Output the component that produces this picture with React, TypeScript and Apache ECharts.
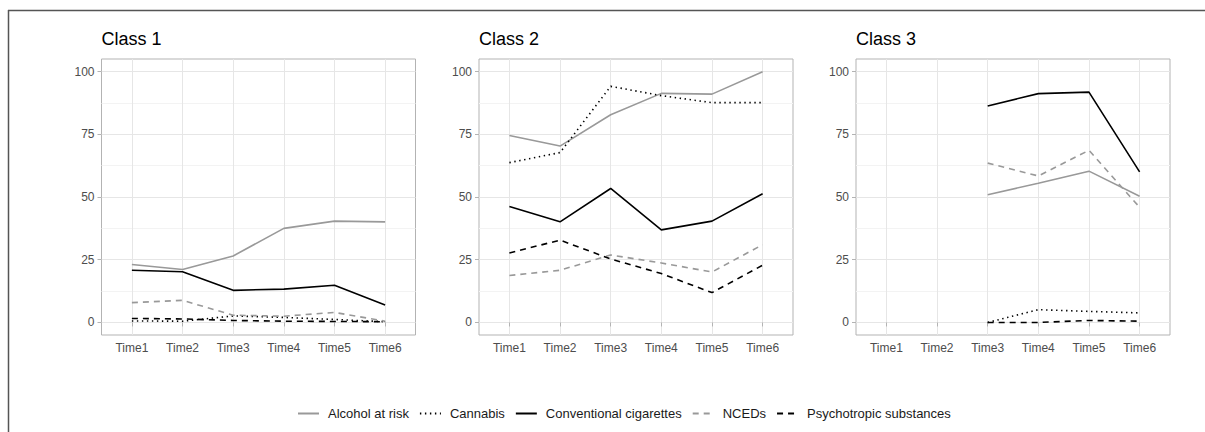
import React, { useEffect, useRef } from "react";
import * as echarts from "echarts";

const times = ["Time1", "Time2", "Time3", "Time4", "Time5", "Time6"];
const timePositions = [1, 2, 3, 4, 5, 6];
const classTitles = ["Class 1", "Class 2", "Class 3"];
const substances = [
  "Alcohol at risk",
  "Cannabis",
  "Conventional cigarettes",
  "NCEDs",
  "Psychotropic substances",
];
const yTicks = [0, 25, 50, 75, 100];
const yMinorTicks = [12.5, 37.5, 62.5, 87.5];

// Class 1
const class1Alcohol = [23.1, 21.1, 26.5, 37.5, 40.4, 40.1];
const class1Cannabis = [0.6, 0.5, 2.6, 2.0, 1.2, 0.3];
const class1Cigarettes = [20.8, 20.2, 12.8, 13.3, 14.8, 7.0];
const class1NCEDs = [7.9, 8.8, 2.9, 2.5, 4.0, 0.5];
const class1Psychotropic = [1.6, 1.4, 0.8, 0.5, 0.4, 0.3];

// Class 2
const class2Alcohol = [74.5, 70.3, 82.8, 91.3, 91.0, 99.9];
const class2Cannabis = [63.7, 67.7, 94.1, 90.4, 87.6, 87.6];
const class2Cigarettes = [46.2, 40.1, 53.4, 36.9, 40.4, 51.3];
const class2NCEDs = [18.7, 20.8, 26.9, 23.7, 20.1, 31.0];
const class2Psychotropic = [27.7, 32.8, 25.3, 19.5, 11.9, 22.8];

// Class 3
const class3Alcohol = [null, null, 50.9, 55.5, 60.3, 50.3];
const class3Cannabis = [null, null, 0.0, 5.1, 4.4, 3.8];
const class3Cigarettes = [null, null, 86.3, 91.2, 91.8, 60.0];
const class3NCEDs = [null, null, 63.5, 58.4, 68.6, 45.9];
const class3Psychotropic = [null, null, 0.0, 0.0, 0.8, 0.5];

const classData = [
  [class1Alcohol, class1Cannabis, class1Cigarettes, class1NCEDs, class1Psychotropic],
  [class2Alcohol, class2Cannabis, class2Cigarettes, class2NCEDs, class2Psychotropic],
  [class3Alcohol, class3Cannabis, class3Cigarettes, class3NCEDs, class3Psychotropic],
];

const lineStyles: any[] = [
  { color: "#999999", type: "solid" },
  { color: "#000000", type: [1.4, 3.6], cap: "butt" },
  { color: "#000000", type: "solid" },
  { color: "#999999", type: [6, 5] },
  { color: "#000000", type: [6, 5] },
];

const FONT = "Liberation Sans, Arial, Helvetica, sans-serif";
const gridLefts = [101.5, 479, 856];
const GRID_TOP = 59;
const GRID_W = 314;
const GRID_H = 276;

export default function App() {
  const ref = useRef<HTMLDivElement>(null);

  useEffect(() => {
    if (!ref.current) return;
    const chart = echarts.init(ref.current, null, { renderer: "svg" });

    const grids: any[] = [];
    const xAxes: any[] = [];
    const yAxes: any[] = [];
    const series: any[] = [];
    const titles: any[] = [];

    classTitles.forEach((t, gi) => {
      grids.push({
        left: gridLefts[gi],
        top: GRID_TOP,
        width: GRID_W,
        height: GRID_H,
        show: true,
        borderColor: "#b3b3b3",
        borderWidth: 1,
        backgroundColor: "transparent",
      });
      titles.push({
        text: t,
        left: gridLefts[gi],
        top: 30,
        padding: 0,
        textStyle: { fontFamily: FONT, fontSize: 18, fontWeight: "normal", color: "#000" },
      });
      xAxes.push({
        type: "value",
        gridIndex: gi,
        min: 0.4,
        max: 6.6,
        axisLine: { show: false },
        axisTick: {
          show: true,
          length: 4,
          customValues: timePositions,
          lineStyle: { color: "#b3b3b3" },
        },
        axisLabel: {
          customValues: timePositions,
          formatter: (v: number) => times[Math.round(v) - 1] ?? "",
          color: "#4d4d4d",
          fontFamily: FONT,
          fontSize: 12,
          margin: 7,
        },
        splitLine: { show: true, lineStyle: { color: "#e6e6e6", width: 1 } },
      });
      yAxes.push({
        type: "value",
        gridIndex: gi,
        min: -5,
        max: 105,
        axisLine: { show: false },
        axisTick: {
          show: true,
          length: 4,
          customValues: yTicks,
          lineStyle: { color: "#b3b3b3" },
        },
        axisLabel: {
          customValues: yTicks,
          color: "#4d4d4d",
          fontFamily: FONT,
          fontSize: 12,
          margin: 7,
        },
        splitLine: { show: true, lineStyle: { color: "#e6e6e6", width: 1 } },
      });
    });
    classTitles.forEach((_, gi) => {
      yAxes.push({
        type: "value",
        gridIndex: gi,
        min: -5,
        max: 105,
        position: "left",
        axisLine: { show: false },
        axisTick: { show: false, customValues: yMinorTicks },
        axisLabel: { show: false, customValues: yMinorTicks },
        splitLine: { show: true, lineStyle: { color: "#f3f3f3", width: 1 } },
        z: 0,
      });
    });

    classData.forEach((arrs, gi) => {
      arrs.forEach((vals, si) => {
        series.push({
          type: "line",
          name: substances[si],
          xAxisIndex: gi,
          yAxisIndex: gi,
          data: vals.map((v, i) => [timePositions[i], v]),
          symbol: "none",
          connectNulls: false,
          lineStyle: { width: 1.6, ...lineStyles[si] },
          itemStyle: { color: lineStyles[si].color },
          z: 3,
        });
      });
    });

    chart.setOption({
      animation: false,
      backgroundColor: "#ffffff",
      title: titles,
      grid: grids,
      xAxis: xAxes,
      yAxis: yAxes,
      series,
      legend: {
        data: substances,
        left: 292,
        top: 402,
        itemWidth: 21,
        itemHeight: 12,
        itemGap: 10,
        itemStyle: { opacity: 0 },
        textStyle: {
          fontFamily: FONT,
          fontSize: 13,
          color: "#1a1a1a",
          padding: [0, 0, 0, 4],
        },
      },
      graphic: [
        {
          type: "line",
          shape: { x1: 8, y1: 10.5, x2: 1205, y2: 10.5 },
          style: { stroke: "#555555", lineWidth: 1.5 },
          silent: true,
        },
        {
          type: "line",
          shape: { x1: 8.5, y1: 10, x2: 8.5, y2: 432 },
          style: { stroke: "#555555", lineWidth: 1.5 },
          silent: true,
        },
      ],
    });

    return () => chart.dispose();
  }, []);

  return (
    <div
      ref={ref}
      style={{ position: "absolute", left: 0, top: 0, width: 1205, height: 432 }}
    />
  );
}
